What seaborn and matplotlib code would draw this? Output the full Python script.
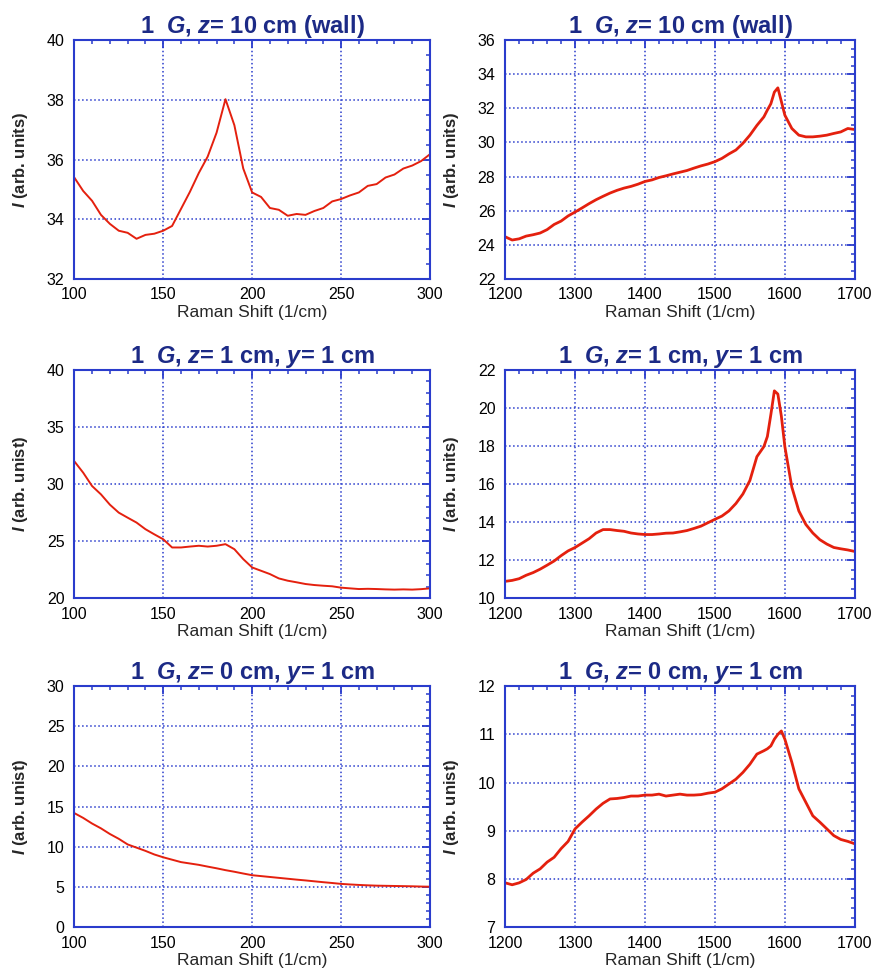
import numpy as np
import pandas as pd
import matplotlib
matplotlib.use("Agg")
import matplotlib.pyplot as plt
from matplotlib.ticker import MultipleLocator
import seaborn as sns

# ----------------------------------------------------------------
# DATA
# ----------------------------------------------------------------
x_low = [100, 105, 110, 115, 120, 125, 130, 135, 140, 145, 150, 155, 160, 165,
         170, 175, 180, 185, 190, 195, 200, 205, 210, 215, 220, 225, 230, 235,
         240, 245, 250, 255, 260, 265, 270, 275, 280, 285, 290, 295, 300]
x_high = [1200, 1210, 1220, 1230, 1240, 1250, 1260, 1270, 1280, 1290, 1300,
          1310, 1320, 1330, 1340, 1350, 1360, 1370, 1380, 1390, 1400, 1410,
          1420, 1430, 1440, 1450, 1460, 1470, 1480, 1490, 1500, 1510, 1520,
          1530, 1540, 1550, 1560, 1570, 1575, 1580, 1585, 1590, 1595, 1600,
          1610, 1620, 1630, 1640, 1650, 1660, 1670, 1680, 1690, 1700]

# z = 10 cm (wall)
wall_low = [35.40, 34.95, 34.62, 34.15, 33.85, 33.62, 33.55, 33.35, 33.48, 33.52,
            33.62, 33.78, 34.35, 34.92, 35.55, 36.10, 36.90, 38.02, 37.15, 35.70,
            34.90, 34.75, 34.38, 34.32, 34.12, 34.18, 34.15, 34.28, 34.38, 34.60,
            34.68, 34.80, 34.90, 35.12, 35.18, 35.40, 35.50, 35.70, 35.80, 35.95,
            36.18]
wall_high = [24.48, 24.29, 24.36, 24.52, 24.60, 24.70, 24.90, 25.20, 25.40, 25.70,
             25.93, 26.17, 26.42, 26.65, 26.85, 27.04, 27.20, 27.33, 27.43, 27.56,
             27.72, 27.81, 27.95, 28.05, 28.16, 28.26, 28.36, 28.50, 28.63, 28.74,
             28.88, 29.07, 29.33, 29.56, 29.95, 30.43, 31.00, 31.50, 31.90, 32.27,
             32.95, 33.20, 32.40, 31.60, 30.82, 30.43, 30.33, 30.33, 30.37, 30.43,
             30.53, 30.62, 30.82, 30.76]

# z = 1 cm, y = 1 cm
mid_low = [32.0, 31.0, 29.83, 29.1, 28.2, 27.5, 27.06, 26.63, 26.05, 25.6, 25.17,
           24.45, 24.45, 24.53, 24.6, 24.53, 24.6, 24.74, 24.3, 23.43, 22.7, 22.41,
           22.12, 21.74, 21.54, 21.4, 21.25, 21.16, 21.1, 21.05, 20.93, 20.87,
           20.81, 20.83, 20.81, 20.78, 20.76, 20.78, 20.76, 20.80, 20.87]
mid_high = [10.89, 10.94, 11.03, 11.21, 11.35, 11.53, 11.74, 11.96, 12.24, 12.49,
            12.67, 12.90, 13.13, 13.43, 13.61, 13.61, 13.56, 13.52, 13.43, 13.38,
            13.35, 13.35, 13.38, 13.42, 13.43, 13.49, 13.56, 13.67, 13.79, 13.97,
            14.15, 14.32, 14.59, 14.98, 15.48, 16.19, 17.44, 17.97, 18.50, 19.66,
            20.90, 20.73, 19.57, 17.97, 15.84, 14.59, 13.88, 13.43, 13.08, 12.85,
            12.67, 12.60, 12.54, 12.46]

# z = 0 cm, y = 1 cm
low_low = [14.2, 13.6, 12.9, 12.3, 11.6, 11.0, 10.3, 9.9, 9.5, 9.05, 8.7, 8.4,
           8.1, 7.93, 7.76, 7.54, 7.33, 7.1, 6.9, 6.68, 6.47, 6.36, 6.25, 6.14,
           6.03, 5.92, 5.82, 5.71, 5.60, 5.50, 5.39, 5.32, 5.26, 5.21, 5.17, 5.15,
           5.13, 5.11, 5.09, 5.06, 5.04]
low_high = [7.92, 7.88, 7.92, 7.99, 8.12, 8.21, 8.35, 8.45, 8.63, 8.78, 9.04, 9.18,
            9.31, 9.45, 9.57, 9.66, 9.67, 9.69, 9.72, 9.72, 9.74, 9.74, 9.76, 9.72,
            9.74, 9.76, 9.74, 9.74, 9.75, 9.78, 9.80, 9.87, 9.97, 10.07, 10.21,
            10.38, 10.59, 10.66, 10.70, 10.76, 10.90, 11.00, 11.07, 10.90, 10.42,
            9.87, 9.59, 9.31, 9.18, 9.04, 8.90, 8.82, 8.78, 8.73]

titles = [r"1  $G$, $z$= 10 cm (wall)", r"1  $G$, $z$= 10 cm (wall)",
          r"1  $G$, $z$= 1 cm, $y$= 1 cm", r"1  $G$, $z$= 1 cm, $y$= 1 cm",
          r"1  $G$, $z$= 0 cm, $y$= 1 cm", r"1  $G$, $z$= 0 cm, $y$= 1 cm"]
ylabels = [r"$I$ (arb. units)", r"$I$ (arb. units)", r"$I$ (arb. unist)",
           r"$I$ (arb. units)", r"$I$ (arb. unist)", r"$I$ (arb. unist)"]
series = [(x_low, wall_low), (x_high, wall_high), (x_low, mid_low),
          (x_high, mid_high), (x_low, low_low), (x_high, low_high)]
ylims = [(32, 40), (22, 36), (20, 40), (10, 22), (0, 30), (7, 12)]
ysteps = [(2, 0.5), (2, 0.5), (5, 1), (2, 0.5), (5, 1), (1, 0.2)]

# ----------------------------------------------------------------
# STYLE
# ----------------------------------------------------------------
sns.set_style("white")
plt.rcParams['font.family'] = ['Liberation Sans', 'DejaVu Sans']
plt.rcParams['mathtext.fontset'] = 'custom'
plt.rcParams['mathtext.it'] = 'Liberation Sans:italic:bold'
plt.rcParams['mathtext.rm'] = 'Liberation Sans:bold'

FRAME = "#2a3ccc"
TITLE = "#1c2a86"
LINE = "#e4200e"

fig = plt.figure(figsize=(8.74, 9.76), dpi=100)
lefts = [0.085, 0.578]
widths = [0.407, 0.400]
rows = [(0.714, 0.245), (0.387, 0.234), (0.050, 0.247)]

for i, (xs, ys) in enumerate(series):
    r, c = divmod(i, 2)
    ax = fig.add_axes([lefts[c], rows[r][0], widths[c], rows[r][1]])
    df = pd.DataFrame({"shift": xs, "I": ys})
    sns.lineplot(data=df, x="shift", y="I", ax=ax, color=LINE,
                 linewidth=1.4 if c == 0 else 2.0)
    if c == 0:
        ax.set_xlim(100, 300)
        ax.xaxis.set_major_locator(MultipleLocator(50))
        ax.xaxis.set_minor_locator(MultipleLocator(10))
    else:
        ax.set_xlim(1200, 1700)
        ax.xaxis.set_major_locator(MultipleLocator(100))
        ax.xaxis.set_minor_locator(MultipleLocator(20))
    ax.set_ylim(*ylims[i])
    ax.yaxis.set_major_locator(MultipleLocator(ysteps[i][0]))
    ax.yaxis.set_minor_locator(MultipleLocator(ysteps[i][1]))

    ax.grid(True, which='major', color=FRAME, linestyle=':', linewidth=1.1)
    for s in ax.spines.values():
        s.set_color(FRAME)
        s.set_linewidth(1.5)
    ax.tick_params(which='both', direction='in', top=True, right=True,
                   color=FRAME, labelsize=11.5, labelcolor='black')
    ax.tick_params(which='major', length=6, width=1.3)
    ax.tick_params(which='minor', length=3, width=1.1)
    ax.tick_params(axis='x', pad=6)
    ax.tick_params(axis='y', pad=7)

    ax.set_title(titles[i], color=TITLE, fontsize=17, fontweight='bold', pad=5)
    ax.set_xlabel("Raman Shift (1/cm)", fontsize=12.5, labelpad=2)
    ax.set_ylabel(ylabels[i], fontsize=12, fontweight='bold', labelpad=12)

plt.savefig("out.png", dpi=100)
